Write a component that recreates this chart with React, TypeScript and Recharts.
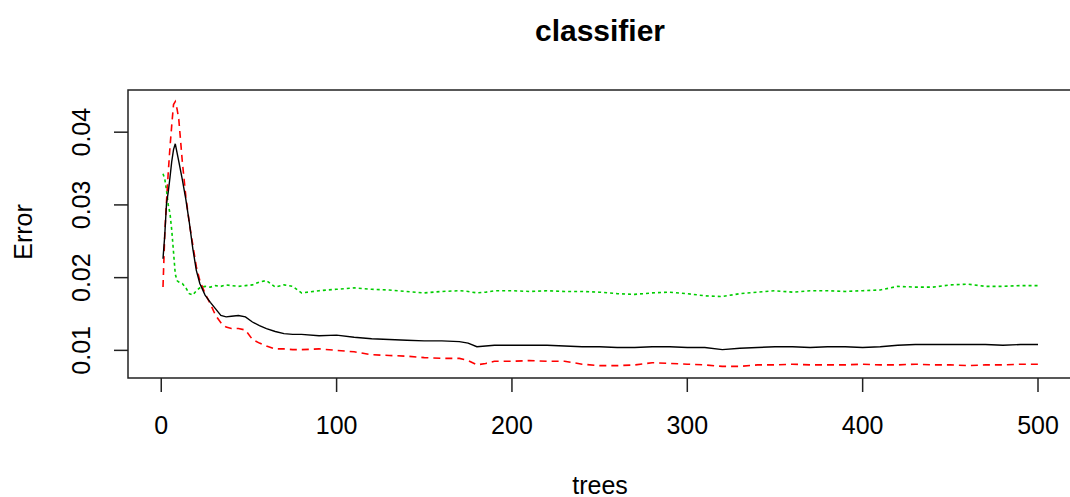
import { LineChart, Line, XAxis, YAxis, ReferenceArea } from 'recharts'

// randomForest error curves: OOB (black), class errors (red dashed, green dotted)
const TREES = [
  1, 2, 3, 4, 5, 6, 7, 8, 9, 10, 12, 14, 16, 18, 20, 22, 25, 28, 31, 34, 37, 40, 44, 48, 52, 56, 60, 65, 70, 75,
  80, 90, 100, 110, 120, 130, 140, 150, 160, 170, 175, 180, 185, 190, 200, 210, 220, 230, 240, 250, 260, 270,
  280, 290, 300, 310, 320, 330, 340, 350, 360, 370, 380, 390, 400, 410, 420, 430, 440, 450, 460, 470, 480, 490, 500,
]

const OOB = [
  0.0226, 0.0258, 0.0302, 0.0318, 0.0338, 0.036, 0.0376, 0.0384, 0.0372, 0.036, 0.0335, 0.0308, 0.0276, 0.024,
  0.021, 0.0192, 0.0176, 0.0166, 0.0157, 0.0148, 0.0146, 0.0147, 0.0148, 0.0146, 0.0139, 0.0134, 0.013, 0.0126,
  0.0123, 0.0122, 0.0122, 0.012, 0.0121, 0.0118, 0.0116, 0.0115, 0.0114, 0.0113, 0.0113, 0.0112, 0.011, 0.0105,
  0.0106, 0.0107, 0.0107, 0.0107, 0.0107, 0.0106, 0.0105, 0.0105, 0.0104, 0.0104, 0.0105, 0.0105, 0.0104, 0.0104,
  0.0101, 0.0103, 0.0104, 0.0105, 0.0105, 0.0104, 0.0105, 0.0105, 0.0104, 0.0105, 0.0107, 0.0108, 0.0108, 0.0108,
  0.0108, 0.0108, 0.0107, 0.0108, 0.0108,
]

const CLASS_A = [
  0.0187, 0.026, 0.0305, 0.0345, 0.038, 0.041, 0.0438, 0.0442, 0.0432, 0.0418, 0.036, 0.0312, 0.0275, 0.0245,
  0.0215, 0.0196, 0.0178, 0.0164, 0.0148, 0.0138, 0.0132, 0.013, 0.013, 0.0128, 0.0115, 0.011, 0.0106, 0.0102,
  0.0102, 0.0101, 0.0101, 0.0102, 0.01, 0.0098, 0.0094, 0.0093, 0.0092, 0.009, 0.0089, 0.0089, 0.0086, 0.008,
  0.0082, 0.0085, 0.0085, 0.0086, 0.0085, 0.0085, 0.0081, 0.0079, 0.0079, 0.008, 0.0083, 0.0082, 0.0081, 0.008,
  0.0078, 0.0078, 0.008, 0.008, 0.0081, 0.008, 0.008, 0.008, 0.0081, 0.008, 0.008, 0.0081, 0.008, 0.008, 0.0079,
  0.008, 0.008, 0.0081, 0.0081,
]

const CLASS_B = [
  0.0343, 0.0336, 0.032, 0.03, 0.0288, 0.0265, 0.0235, 0.0205, 0.0196, 0.0194, 0.0192, 0.0186, 0.0178, 0.0176,
  0.0182, 0.0186, 0.0188, 0.0187, 0.0189, 0.0188, 0.019, 0.0189, 0.0188, 0.0189, 0.019, 0.0194, 0.0196, 0.0187,
  0.019, 0.0188, 0.0179, 0.0182, 0.0184, 0.0186, 0.0184, 0.0183, 0.0181, 0.0179, 0.0181, 0.0182, 0.0181, 0.0179,
  0.018, 0.0182, 0.0182, 0.0181, 0.0182, 0.0181, 0.0181, 0.018, 0.0178, 0.0177, 0.0179, 0.018, 0.0178, 0.0175,
  0.0174, 0.0178, 0.018, 0.0182, 0.018, 0.0182, 0.0182, 0.0181, 0.0182, 0.0183, 0.0188, 0.0187, 0.0187, 0.019,
  0.0191, 0.0188, 0.0188, 0.0189, 0.0189,
]

const X_TICKS = [0, 100, 200, 300, 400, 500]
const Y_TICKS = [0.01, 0.02, 0.03, 0.04]
const X_DOMAIN: [number, number] = [-18.96, 519.96]
const Y_DOMAIN: [number, number] = [0.0062, 0.0458]

const FONT = '"Liberation Sans", Arial, sans-serif'
const PLOT_TOP = 90
const PLOT_BOTTOM = 378
const PLOT_LEFT = 128

const data = TREES.map((t, i) => ({ trees: t, OOB: OOB[i], a: CLASS_A[i], b: CLASS_B[i] }))

function XTick({ x, payload }: { x?: number; payload?: { value: number } }) {
  return (
    <text x={x} y={PLOT_BOTTOM + 56} textAnchor="middle" fontSize={25} fontFamily={FONT} fill="#000">
      {payload?.value}
    </text>
  )
}

function YTick({ y, payload }: { y?: number; payload?: { value: number } }) {
  const bx = 90
  return (
    <text x={bx} y={y} transform={`rotate(-90, ${bx}, ${y})`} textAnchor="middle" fontSize={25} fontFamily={FONT} fill="#000">
      {payload?.value.toFixed(2)}
    </text>
  )
}

export default function App() {
  return (
    <div style={{ position: 'absolute', left: 0, top: 0, width: 1070, height: 497, overflow: 'hidden', background: '#fff' }}>
      <div style={{
        position: 'absolute', left: 0, width: 1200, top: 16, textAlign: 'center',
        fontFamily: FONT, fontWeight: 'bold', fontSize: 30, lineHeight: '30px', color: '#000',
      }}>
        <span style={{ position: 'absolute', left: 600, transform: 'translateX(-50%)' }}>classifier</span>
      </div>
      <LineChart
        width={1100}
        height={497}
        data={data}
        margin={{ top: PLOT_TOP, right: 27, bottom: 59, left: PLOT_LEFT - 60 }}
      >
        <XAxis
          dataKey="trees"
          type="number"
          domain={X_DOMAIN}
          allowDataOverflow
          ticks={X_TICKS}
          interval={0}
          height={60}
          axisLine={false}
          tickSize={14}
          tickLine={{ stroke: '#222', strokeWidth: 1.5 }}
          tick={<XTick />}
          label={{
            content: () => (
              <text x={600} y={494} textAnchor="middle" fontSize={25} fontFamily={FONT} fill="#000">trees</text>
            ),
          }}
        />
        <YAxis
          type="number"
          domain={Y_DOMAIN}
          allowDataOverflow
          ticks={Y_TICKS}
          interval={0}
          width={60}
          axisLine={false}
          tickSize={14}
          tickLine={{ stroke: '#222', strokeWidth: 1.5 }}
          tick={<YTick />}
          label={{
            content: () => (
              <text x={32} y={232} transform="rotate(-90, 32, 232)" textAnchor="middle" fontSize={25} fontFamily={FONT} fill="#000">
                Error
              </text>
            ),
          }}
        />
        <ReferenceArea
          x1={X_DOMAIN[0]}
          x2={X_DOMAIN[1]}
          y1={Y_DOMAIN[0]}
          y2={Y_DOMAIN[1]}
          fill="none"
          stroke="#222"
          strokeWidth={1.5}
          ifOverflow="visible"
        />
        <Line dataKey="b" type="linear" stroke="#00CD00" strokeWidth={1.6} strokeDasharray="3 3" dot={false} isAnimationActive={false} />
        <Line dataKey="a" type="linear" stroke="#FF0000" strokeWidth={1.6} strokeDasharray="7 5" dot={false} isAnimationActive={false} />
        <Line dataKey="OOB" type="linear" stroke="#000" strokeWidth={1.4} dot={false} isAnimationActive={false} />
      </LineChart>
    </div>
  )
}
